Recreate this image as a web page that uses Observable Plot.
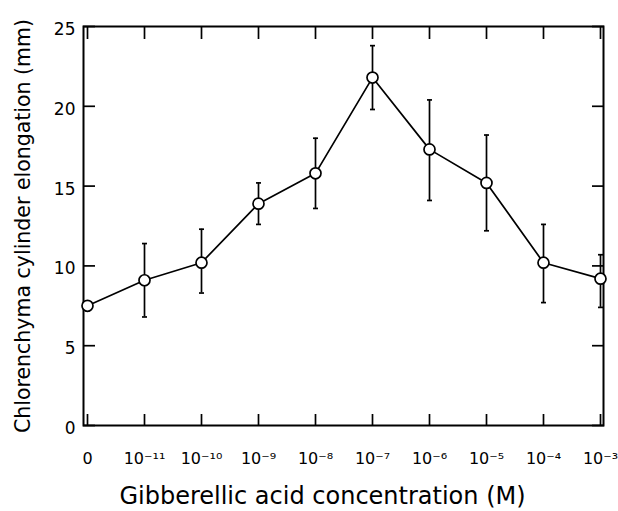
<!DOCTYPE html>
<html><head><meta charset="utf-8">
<script src="https://cdn.jsdelivr.net/npm/d3@7"></script>
<script src="https://cdn.jsdelivr.net/npm/@observablehq/plot@0.6"></script>
<style>body{margin:0;background:#fff}svg{display:block}</style>
</head><body><div id="c"></div>
<script>
const concentrations = ["0","10⁻¹¹","10⁻¹⁰","10⁻⁹","10⁻⁸","10⁻⁷","10⁻⁶","10⁻⁵","10⁻⁴","10⁻³"];
const elongation = [7.5, 9.1, 10.2, 13.9, 15.8, 21.8, 17.3, 15.2, 10.2, 9.2];
const errLow  = [7.2, 6.8, 8.3, 12.6, 13.6, 19.8, 14.1, 12.2, 7.7, 7.4];
const errHigh = [7.8, 11.4, 12.3, 15.2, 18.0, 23.8, 20.4, 18.2, 12.6, 10.7];
const yTicks = [0, 5, 10, 15, 20, 25];
const xTitle = "Gibberellic acid concentration (M)";
const yTitle = "Chlorenchyma cylinder elongation (mm)";

const data = concentrations.map((c, i) => ({c, v: elongation[i], lo: errLow[i], hi: errHigh[i]}));
const font = "DejaVu Sans, sans-serif";
const blank = () => "";
const cap = {draw(ctx) { ctx.moveTo(-2.5, 0); ctx.lineTo(2.5, 0); }};
const supMap = {"⁻":"−","⁰":"0","¹":"1","²":"2","³":"3","⁴":"4","⁵":"5","⁶":"6","⁷":"7","⁸":"8","⁹":"9"};

const chart = Plot.plot({
  width: 618, height: 511,
  marginLeft: 83, marginRight: 15, marginTop: 26, marginBottom: 86,
  style: {fontFamily: font, background: "#fff", color: "#000"},
  x: {type: "point", domain: concentrations, padding: 0, axis: null},
  y: {domain: [0, 25], axis: null},
  marks: [
    Plot.frame({stroke: "#000", strokeWidth: 2}),
    Plot.axisY(yTicks, {anchor: "left", tickSize: -12, strokeWidth: 1.7, tickFormat: blank, label: null}),
    Plot.axisY(yTicks, {anchor: "right", tickSize: -12, strokeWidth: 1.7, tickFormat: blank, label: null}),
    Plot.axisY(yTicks, {anchor: "left", tickSize: 0, tickPadding: 8, fontSize: 17, dy: 3, label: null}),
    Plot.axisX(concentrations, {anchor: "bottom", tickSize: -11, strokeWidth: 1.7, tickFormat: blank, label: null}),
    Plot.axisX(concentrations, {anchor: "top", tickSize: -12, strokeWidth: 1.7, tickFormat: blank, label: null}),
    Plot.text(concentrations, {x: d => d, frameAnchor: "bottom", dy: 38, fontSize: 16, text: d => d, ariaLabel: "xticklabels"}),
    Plot.text([xTitle], {frameAnchor: "bottom", dy: 78, dx: -21, fontSize: 24, text: d => d}),
    Plot.text([yTitle], {frameAnchor: "left", dx: -60, rotate: -90, textAnchor: "middle", fontSize: 20.5, text: d => d}),
    Plot.ruleX(data, {x: "c", y1: "lo", y2: "hi", stroke: "#000", strokeWidth: 1.7}),
    Plot.dot(data, {x: "c", y: "lo", symbol: cap, stroke: "#000", strokeWidth: 1.7}),
    Plot.dot(data, {x: "c", y: "hi", symbol: cap, stroke: "#000", strokeWidth: 1.7}),
    Plot.line(data, {x: "c", y: "v", stroke: "#000", strokeWidth: 1.7}),
    Plot.dot(data, {x: "c", y: "v", r: 5.5, fill: "#fff", stroke: "#000", strokeWidth: 1.7})
  ]
});
// x tick labels: raised exponents as real superscript tspans
d3.select(chart).selectAll('g[aria-label="xticklabels"] text').each(function() {
  const t = this.textContent;
  if (t.startsWith("10") && t.length > 2) {
    const exp = [...t.slice(2)].map(ch => supMap[ch] || ch).join("");
    const sel = d3.select(this).text("");
    sel.append("tspan").text("10");
    sel.append("tspan").attr("dy", "-0.55em").attr("font-size", "11px").text(exp);
  }
});
document.getElementById("c").appendChild(chart);
</script>
</body></html>
